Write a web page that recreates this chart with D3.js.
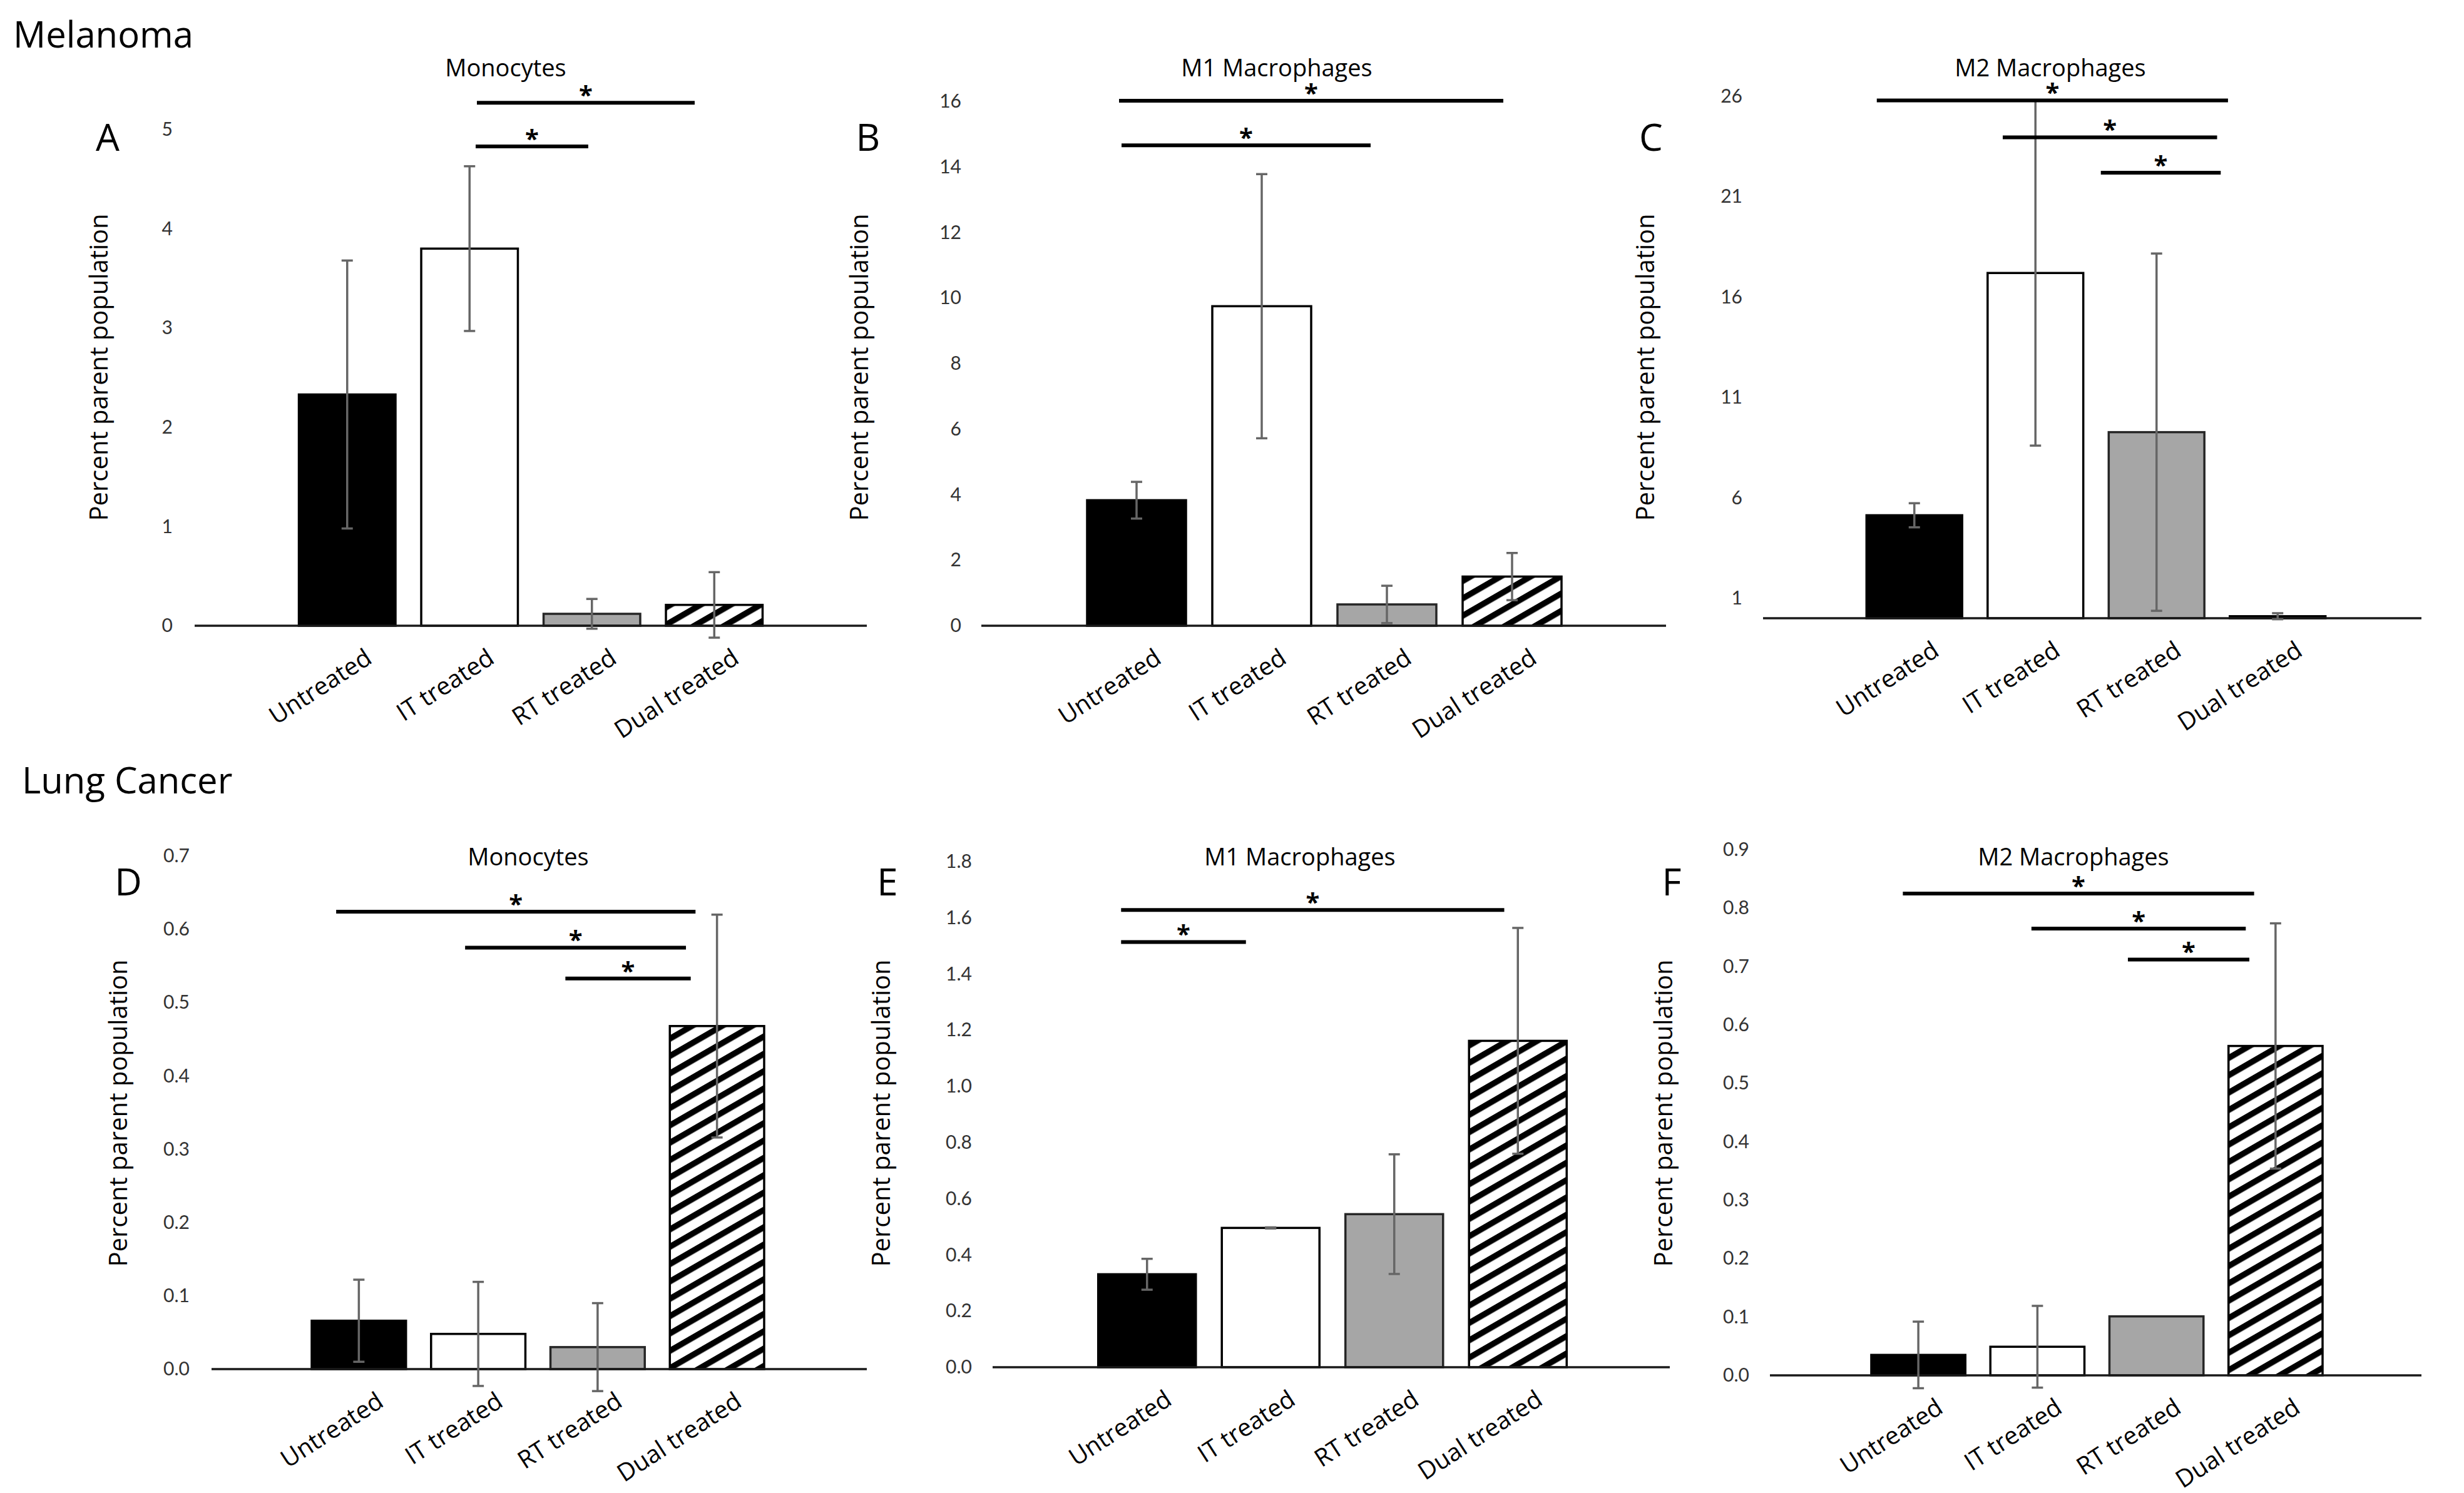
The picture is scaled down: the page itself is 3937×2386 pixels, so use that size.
<!DOCTYPE html>
<html>
<head>
<meta charset="utf-8">
<script src="https://cdn.jsdelivr.net/npm/d3@7"></script>
<style>
  body { margin: 0; background: #fff; }
  text { font-family: "Open Sans", sans-serif; }
</style>
</head>
<body>
<div id="chart"></div>
<script>
// groups shown on every panel
const categories = ["Untreated", "IT treated", "RT treated", "Dual treated"]

// Melanoma
const melMonoMean = [2.33, 3.80, 0.12, 0.21]
const melMonoErr  = [1.35, 0.83, 0.15, 0.33]
const melM1Mean   = [3.83, 9.75, 0.65, 1.50]
const melM1Err    = [0.56, 4.03, 0.57, 0.72]
const melM2Mean   = [5.13, 17.2, 9.27, 0.10]
const melM2Err    = [0.60, 8.60, 8.90, 0.15]

// Lung cancer
const lungMonoMean = [0.066, 0.048, 0.030, 0.468]
const lungMonoErr  = [0.056, 0.071, 0.060, 0.152]
const lungM1Mean   = [0.331, 0.496, 0.545, 1.162]
const lungM1Err    = [0.055, 0.002, 0.213, 0.402]
const lungM2Mean   = [0.035, 0.049, 0.101, 0.564]
const lungM2Err    = [0.057, 0.070, 0.000, 0.210]

// y axis tick labels
const ticksA = [0, 1, 2, 3, 4, 5]
const ticksB = [0, 2, 4, 6, 8, 10, 12, 14, 16]
const ticksC = [1, 6, 11, 16, 21, 26]
const ticksD = [0, 0.1, 0.2, 0.3, 0.4, 0.5, 0.6, 0.7]
const ticksE = [0, 0.2, 0.4, 0.6, 0.8, 1.0, 1.2, 1.4, 1.6, 1.8]
const ticksF = [0, 0.1, 0.2, 0.3, 0.4, 0.5, 0.6, 0.7, 0.8, 0.9]

// significance brackets: [from group index, to group index, height in data units]
const sigA = [[1.06, 2.84, 5.27], [1.05, 1.97, 4.83]]
const sigB = [[-0.14, 2.93, 16.02], [-0.12, 1.87, 14.66]]
const sigC = [[-0.31, 2.59, 25.8], [0.73, 2.50, 23.96], [1.54, 2.53, 22.2]]
const sigD = [[-0.19, 2.82, 0.624], [0.89, 2.74, 0.575], [1.73, 2.78, 0.533]]
const sigE = [[-0.21, 2.89, 1.628], [-0.21, 0.80, 1.514]]
const sigF = [[-0.13, 2.82, 0.825], [0.95, 2.75, 0.765], [1.76, 2.78, 0.712]]

function init() {
    var w = 3937
    var h = 2386

    var svg = d3.select("#chart")
                .append("svg")
                .attr("width", w)
                .attr("height", h)

    var pat = svg.append("defs")
                .append("pattern")
                .attr("id", "hatch")
                .attr("patternUnits", "userSpaceOnUse")
                .attr("width", 24)
                .attr("height", 24)
                .attr("patternTransform", "rotate(-30)")
    pat.append("rect").attr("width", 24).attr("height", 24).attr("fill", "#fff")
    pat.append("rect").attr("width", 24).attr("height", 9.5).attr("fill", "#000")

    svg.append("text").text("Melanoma")
        .attr("x", 21).attr("y", 76)
        .style("font-size", "58px")
    svg.append("text").text("Lung Cancer")
        .attr("x", 35).attr("y", 1268)
        .style("font-size", "58px")

    var panels = [
        { letter: "A", title: "Monocytes", mean: melMonoMean, err: melMonoErr, ticks: ticksA, max: 5, fmt: d3.format("d"), sig: sigA,
          band: [457, 1239], axis: [311, 1385], y0: 1000, y1: 207, tickX: 276, labelX: 158, letterX: 172, titleX: 808, row: 0 },
        { letter: "B", title: "M1 Macrophages", mean: melM1Mean, err: melM1Err, ticks: ticksB, max: 16, fmt: d3.format("d"), sig: sigB,
          band: [1716, 2516], axis: [1568, 2662], y0: 1000, y1: 162, tickX: 1536, labelX: 1373, letterX: 1387, titleX: 2040, row: 0 },
        { letter: "C", title: "M2 Macrophages", mean: melM2Mean, err: melM2Err, ticks: ticksC, max: 26, fmt: d3.format("d"), sig: sigC,
          band: [2962, 3736], axis: [2817, 3869], y0: 988, y1: 154, tickX: 2784, labelX: 2629, letterX: 2638, titleX: 3276, row: 0 },
        { letter: "D", title: "Monocytes", mean: lungMonoMean, err: lungMonoErr, ticks: ticksD, max: 0.7, fmt: d3.format(".1f"), sig: sigD,
          band: [478, 1241], axis: [338, 1385], y0: 2188, y1: 1368, tickX: 303, labelX: 189, letterX: 205, titleX: 844, row: 1 },
        { letter: "E", title: "M1 Macrophages", mean: lungM1Mean, err: lungM1Err, ticks: ticksE, max: 1.8, fmt: d3.format(".1f"), sig: sigE,
          band: [1734, 2524], axis: [1586, 2668], y0: 2185, y1: 1377, tickX: 1553, labelX: 1408, letterX: 1418, titleX: 2077, row: 1 },
        { letter: "F", title: "M2 Macrophages", mean: lungM2Mean, err: lungM2Err, ticks: ticksF, max: 0.9, fmt: d3.format(".1f"), sig: sigF,
          band: [2970, 3731], axis: [2828, 3869], y0: 2198, y1: 1358, tickX: 2795, labelX: 2658, letterX: 2671, titleX: 3313, row: 1 }
    ]

    panels.forEach(p => barChart(svg, p))
}

function barChart(svg, p) {
    var g = svg.append("g")
    var fills = ["#000", "#fff", "#a6a6a6", "url(#hatch)"]
    var strokes = ["#000", "#000", "#262626", "#000"]

    var x = d3.scaleBand()
              .domain(categories)
              .range(p.band)
              .paddingInner(0.21)
              .paddingOuter(0.105)
    var y = d3.scaleLinear()
              .domain([0, p.max])
              .range([p.y0, p.y1])
    var xi = d3.scaleLinear()
               .domain([0, categories.length - 1])
               .range([x(categories[0]) + x.bandwidth() / 2, x(categories[3]) + x.bandwidth() / 2])

    var rows = categories.map((c, i) => ({ cat: c, mean: p.mean[i], err: p.err[i], i: i }))

    var titleY = p.row == 0 ? 122 : 1383
    var letterY = p.row == 0 ? 241 : 1431
    var labelY = p.row == 0 ? 587 : 1779

    g.append("text").text(p.title)
        .attr("x", p.titleX).attr("y", titleY)
        .attr("text-anchor", "middle")
        .style("font-size", "38px")

    g.append("text").text(p.letter)
        .attr("x", p.letterX).attr("y", letterY)
        .attr("text-anchor", "middle")
        .style("font-size", "60px")

    g.append("text").text("Percent parent population")
        .attr("transform", `translate(${p.labelX + 14},${labelY}) rotate(-90)`)
        .attr("text-anchor", "middle")
        .style("font-size", "40px")

    // y axis: labels only, no line or ticks
    var yAxis = d3.axisLeft(y)
                  .tickValues(p.ticks)
                  .tickFormat(p.fmt)
                  .tickSize(0)
                  .tickPadding(0)
    var ax = g.append("g")
              .attr("transform", `translate(${p.tickX},0)`)
              .call(yAxis)
    ax.select(".domain").remove()
    ax.selectAll("text")
        .style("font-family", "Lato, 'Open Sans', sans-serif")
        .style("font-size", "30px")
        .attr("fill", "#333")

    g.selectAll("rect.bar")
        .data(rows)
        .enter()
        .append("rect")
        .attr("class", "bar")
        .attr("x", d => x(d.cat))
        .attr("y", d => y(d.mean))
        .attr("width", x.bandwidth())
        .attr("height", d => y(0) - y(d.mean))
        .attr("fill", d => fills[d.i])
        .attr("stroke", d => strokes[d.i])
        .attr("stroke-width", 3.5)

    // baseline
    g.append("line")
        .attr("x1", p.axis[0]).attr("x2", p.axis[1])
        .attr("y1", y(0)).attr("y2", y(0))
        .attr("stroke", "#1a1a1a")
        .attr("stroke-width", 3.5)

    // error bars
    var eb = g.selectAll("g.err")
              .data(rows.filter(d => d.err > 0))
              .enter()
              .append("g")
              .attr("class", "err")
              .attr("stroke", "#666")
              .attr("stroke-width", 3.5)
    eb.append("line")
        .attr("x1", d => x(d.cat) + x.bandwidth() / 2)
        .attr("x2", d => x(d.cat) + x.bandwidth() / 2)
        .attr("y1", d => y(d.mean + d.err))
        .attr("y2", d => y(d.mean - d.err))
    eb.append("line")
        .attr("x1", d => x(d.cat) + x.bandwidth() / 2 - 9)
        .attr("x2", d => x(d.cat) + x.bandwidth() / 2 + 9)
        .attr("y1", d => y(d.mean + d.err))
        .attr("y2", d => y(d.mean + d.err))
    eb.append("line")
        .attr("x1", d => x(d.cat) + x.bandwidth() / 2 - 9)
        .attr("x2", d => x(d.cat) + x.bandwidth() / 2 + 9)
        .attr("y1", d => y(d.mean - d.err))
        .attr("y2", d => y(d.mean - d.err))

    // category labels
    g.selectAll("text.cat")
        .data(rows)
        .enter()
        .append("text")
        .attr("class", "cat")
        .text(d => d.cat)
        .attr("transform", d => `translate(${x(d.cat) + x.bandwidth() / 2 + 42},${y(0) + 58}) rotate(-33)`)
        .attr("text-anchor", "end")
        .style("font-size", "39px")

    // significance brackets
    g.selectAll("line.sig")
        .data(p.sig)
        .enter()
        .append("line")
        .attr("class", "sig")
        .attr("x1", d => xi(d[0]))
        .attr("x2", d => xi(d[1]))
        .attr("y1", d => y(d[2]))
        .attr("y2", d => y(d[2]))
        .attr("stroke", "#000")
        .attr("stroke-width", 6)

    g.selectAll("text.star")
        .data(p.sig)
        .enter()
        .append("text")
        .attr("class", "star")
        .text("*")
        .attr("x", d => (xi(d[0]) + xi(d[1])) / 2)
        .attr("y", d => y(d[2]) + 2)
        .attr("text-anchor", "middle")
        .style("font-size", "40px")
        .style("font-weight", "bold")
}

window.onload = init;
</script>
</body>
</html>
